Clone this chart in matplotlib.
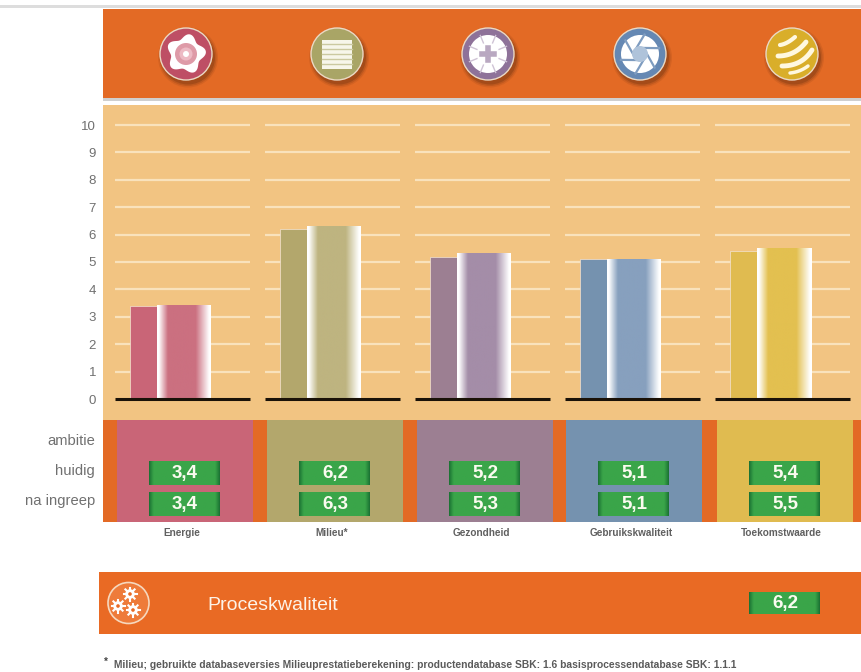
import numpy as np
import matplotlib
matplotlib.use('Agg')
import matplotlib.pyplot as plt
from matplotlib.colors import LinearSegmentedColormap
from matplotlib.patches import Circle, Rectangle, Polygon

plt.rcParams['font.family'] = ['Liberation Sans', 'DejaVu Sans']

# data
categories = ['Energie', 'Milieu*', 'Gezondheid', 'Gebruikskwaliteit', 'Toekomstwaarde']
huidig = [3.4, 6.2, 5.2, 5.1, 5.4]
na_ingreep = [3.4, 6.3, 5.3, 5.1, 5.5]
row_labels = ['ambitie', 'huidig', 'na ingreep']
y_ticks = [0, 1, 2, 3, 4, 5, 6, 7, 8, 9, 10]
proces_label = 'Proceskwaliteit'
proces_value = 6.2
footnote = 'Milieu; gebruikte databaseversies Milieuprestatieberekening: productendatabase SBK: 1.6 basisprocessendatabase SBK: 1.1.1'

# colours
sOrange = '#E36A25'
sOrange2 = '#E96A24'
sPeach = '#F2C482'
sGrid = '#F9E2BC'
sGrey = '#707070'
aColor = ['#C96577', '#B3A76C', '#9C7F92', '#7592AF', '#E0BB50']
aColor_front = ['#CB7080', '#BEB480', '#A48DA8', '#87A0BE', '#E3C050']

W, H = 861, 672
fig = plt.figure(figsize=(W / 100, H / 100), dpi=100, facecolor='white')

# background layer in pixels
bg = fig.add_axes([0, 0, 1, 1])
bg.set_xlim(0, W)
bg.set_ylim(H, 0)
bg.axis('off')


def box(x0, y0, x1, y1, color, ax=bg, z=1):
    ax.add_patch(Rectangle((x0, y0), x1 - x0, y1 - y0, fc=color, ec='none', zorder=z))


def green_box(x0, y0, x1, y1, value):
    grad = LinearSegmentedColormap.from_list('g', [(0, '#1C7434'), (0.06, '#3AA549'), (0.94, '#3AA549'), (1, '#1C7434')])
    bg.imshow(np.linspace(0, 1, 64).reshape(1, -1), cmap=grad, extent=[x0, x1, y1, y0], aspect='auto', zorder=3)
    bg.text((x0 + x1) / 2 + 1, (y0 + y1) / 2 + 0.5, f'{value:.1f}'.replace('.', ','), color='#FBFBF0',
            fontsize=13.5, fontweight='bold', ha='center', va='center', zorder=4)


box(0, 5, W, 7.5, '#DDDDDD')
box(103, 9, W, 98, sOrange)
box(103, 98, W, 101, '#CFCFCF')
box(103, 105, W, 420, sPeach)
box(103, 420, W, 522, sOrange)

xCenter = [182.5, 332.5, 482.5, 632, 782.5]
for x, c, a, b, s in zip(xCenter, aColor, huidig, na_ingreep, categories):
    box(x - 66, 420, x + 70, 522, c, z=2)
    green_box(x - 34, 461, x + 37, 485, a)
    green_box(x - 34, 492, x + 37, 516, b)
    bg.text(x - 1, 533, s, color='#606060', fontsize=7.2, fontweight='bold', ha='center', va='center')

for s, y in zip(row_labels, [441, 471, 501]):
    bg.text(95, y, s, color=sGrey, fontsize=10.6, ha='right', va='center')

# process bar
box(99, 572, W, 634, sOrange2)
bg.text(207, 605, proces_label, color='#FDF3E8', fontsize=14, ha='left', va='center')
green_box(749, 592, 820, 614, proces_value)

bg.text(104, 662, '*', color='#444444', fontsize=7, fontweight='bold', ha='left', va='center')
bg.text(114, 665, footnote, color='#5A5A5A', fontsize=7.4, fontweight='bold', ha='left', va='center')


# icons
def icon_base(cx, cy, r, c):
    for dr, al in [(4, 0.12), (2.5, 0.2), (1, 0.3)]:
        bg.add_patch(Circle((cx + 2, cy + 3.5), r + dr, fc='#6A3010', ec='none', alpha=al, zorder=5))
    bg.add_patch(Circle((cx, cy), r, fc=c, ec='#EBD9C4', lw=1, zorder=6))


cy = 54
r = 26
t = np.linspace(0, 2 * np.pi, 200)

# rose: flower
icon_base(186, cy, r, '#BE4F65')
rr = 17.5 + 2.5 * np.cos(5 * t + 0.6)
bg.add_patch(Polygon(np.c_[186 + rr * np.cos(t), cy + rr * np.sin(t)], fc='white', ec='none', zorder=7))
bg.add_patch(Circle((186, cy), 11, fc='#DE9AA7', ec='none', zorder=8))
bg.add_patch(Circle((186, cy), 6.5, fc='#EDBAC4', ec='none', zorder=9))
bg.add_patch(Circle((186, cy), 3, fc='white', ec='none', zorder=10))

# olive: wall
icon_base(337, cy, r, '#A9A566')
box(322, 40, 352, 69, '#F7F6EA', z=7)
for yy in range(44, 69, 5):
    bg.plot([322, 352], [yy, yy], color='#CBC9A0', lw=1, zorder=8)

# purple: snowflake block
icon_base(488, cy, r, '#8E7299')
bg.add_patch(Circle((488, cy), 19, fc='white', ec='none', zorder=7))
for a in np.arange(22.5, 360, 45):
    ang = np.deg2rad(a)
    bg.plot([488 + 12 * np.cos(ang), 488 + 20 * np.cos(ang)], [cy + 12 * np.sin(ang), cy + 20 * np.sin(ang)],
            color='#CFC3D5', lw=1, zorder=8)
bg.plot([482, 494], [cy, cy], color='#B9A8C1', lw=4, zorder=9)
bg.plot([488, 488], [cy - 6, cy + 6], color='#B9A8C1', lw=4, zorder=9)

# blue: aperture
icon_base(640, cy, r, '#6588B3')
bg.add_patch(Circle((640, cy), 19, fc='white', ec='none', zorder=7))
for a in np.arange(0, 360, 60):
    ang = np.deg2rad(a)
    bg.plot([640 + 7 * np.cos(ang), 640 + 20 * np.cos(ang + 0.75)], [cy + 7 * np.sin(ang), cy + 20 * np.sin(ang + 0.75)],
            color='#7E9CC0', lw=1.6, zorder=8)
bg.add_patch(Circle((640, cy), 8, fc='#AFC3DA', ec='none', zorder=9))

# yellow: striped ball
icon_base(792, cy, r, '#D9AE2A')
for p0, pc, p1, lw in [((780, 45), (787, 44), (795, 37), 3),
                       ((778, 56), (795, 56), (806, 42), 3.5),
                       ((782, 66), (802, 66), (812, 50), 3.5),
                       ((790, 73), (800, 72), (808, 66), 2.5)]:
    s = np.linspace(0, 1, 30)
    xs = (1 - s) ** 2 * p0[0] + 2 * s * (1 - s) * pc[0] + s ** 2 * p1[0]
    ys = (1 - s) ** 2 * p0[1] + 2 * s * (1 - s) * pc[1] + s ** 2 * p1[1]
    bg.plot(xs, ys, color='#FFF8E0', lw=lw, solid_capstyle='round', zorder=7)

# process icon
bg.add_patch(Circle((128.5, 603), 20.5, fc='#EE7B3A', ec='#F6D8BE', lw=1.2, zorder=6))
for cxg, cyg in [(130, 594), (118, 606), (133, 610)]:
    for a in np.arange(0, 360, 45):
        ang = np.deg2rad(a)
        bg.plot([cxg, cxg + 6.5 * np.cos(ang)], [cyg, cyg + 6.5 * np.sin(ang)], color='white', lw=1.5, zorder=7)
    bg.add_patch(Circle((cxg, cyg), 4.8, fc='white', ec='none', zorder=7))
    bg.add_patch(Circle((cxg, cyg), 1.8, fc=sOrange2, ec='none', zorder=8))

# chart layer, x is category index, y is score
ax_left, ax_right, ax_top, ax_bottom = 103, W, 105, 420
ax = fig.add_axes([ax_left / W, 1 - ax_bottom / H, (ax_right - ax_left) / W, (ax_bottom - ax_top) / H])
ax.patch.set_alpha(0)
for s in ax.spines.values():
    s.set_visible(False)
ax.set_xticks([])
ax.set_yticks(y_ticks)
ax.tick_params(axis='y', length=0, pad=5, labelsize=9.5, labelcolor=sGrey)

x = np.arange(len(categories))
for i in x:
    ax.hlines(y_ticks[1:], i - 0.45, i + 0.45, color=sGrid, lw=1.6, zorder=1)

for i in x:
    ax.bar(i - 0.26, huidig[i], width=0.18, color=aColor[i], edgecolor='#F3E3D3', lw=0.5, zorder=2)
    c = aColor_front[i]
    cmap = LinearSegmentedColormap.from_list('b', [(0, 'white'), (0.03, 'white'), (0.2, c), (0.72, c), (0.97, 'white'), (1, 'white')])
    ax.imshow(np.linspace(0, 1, 128).reshape(1, -1), cmap=cmap, aspect='auto',
              extent=[i - 0.17, i + 0.19, 0, na_ingreep[i]], zorder=3)
    ax.hlines(0, i - 0.45, i + 0.45, color='#1A1208', lw=2.2, zorder=4)

ax.set_xlim((ax_left - 182.5) / 150, (ax_right - 182.5) / 150)
ax.set_ylim(-21 / 27.4, 294 / 27.4)

fig.savefig('out.png', dpi=100)
